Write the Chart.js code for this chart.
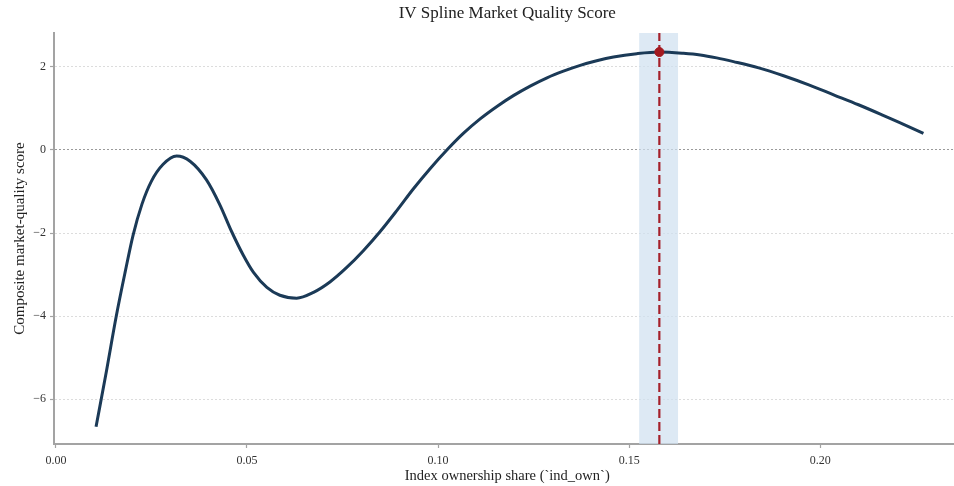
<!DOCTYPE html>
<html>
<head>
<meta charset="utf-8">
<script src="https://cdn.jsdelivr.net/npm/chart.js@4/dist/chart.umd.min.js"></script>
<style>
  html, body { margin: 0; padding: 0; background: #ffffff; overflow: hidden; }
  #wrap { width: 966px; height: 486px; position: relative; }
</style>
</head>
<body>
<div id="wrap"><canvas id="chart"></canvas></div>
<script>
// Fitted spline of the composite score against index ownership share
const ownShare = [
  0.0105, 0.0130, 0.0158, 0.0181, 0.0202, 0.0225, 0.0250, 0.0280, 0.0316, 0.0351,
  0.0394, 0.0429, 0.0460, 0.0490, 0.0517, 0.0552, 0.0586, 0.0630, 0.0674, 0.0717,
  0.0761, 0.0805, 0.0848, 0.0892, 0.0935, 0.0979, 0.1023, 0.1066, 0.1110, 0.1154,
  0.1197, 0.1241, 0.1285, 0.1328, 0.1372, 0.1415, 0.1459, 0.1520, 0.1579, 0.1642,
  0.1686, 0.1729, 0.1773, 0.1839, 0.1904, 0.1970, 0.2035, 0.2100, 0.2166, 0.2218,
  0.2270
];
const qualityScore = [
  -6.67, -5.44, -4.00, -2.95, -2.05, -1.31, -0.75, -0.35, -0.145, -0.27,
  -0.72, -1.32, -1.97, -2.53, -2.95, -3.31, -3.50, -3.57, -3.43, -3.18,
  -2.83, -2.42, -1.97, -1.46, -0.94, -0.45, 0.00, 0.40, 0.75, 1.05,
  1.31, 1.54, 1.74, 1.90, 2.04, 2.15, 2.24, 2.32, 2.36, 2.33,
  2.29, 2.22, 2.13, 1.98, 1.79, 1.57, 1.33, 1.09, 0.83, 0.62,
  0.40
];

// Estimated optimum and its confidence band
const optimumShare = 0.1579;
const optimumScore = 2.36;
const bandLow = 0.1526;
const bandHigh = 0.1628;

// Axis ranges and ticks
const xRange = [-0.0005, 0.2367];
const yRange = [-7.084, 2.819];
const xTicks = [0.00, 0.05, 0.10, 0.15, 0.20];
const yTicks = [-6, -4, -2, 0, 2];

const serif = "'Liberation Serif', 'DejaVu Serif', serif";
const axisGray = '#a3a3a3';

new Chart(document.getElementById('chart'), {
  type: 'line',
  data: {
    datasets: [
      {
        // confidence band around the optimum
        data: [{ x: bandLow, y: yRange[1] }, { x: bandHigh, y: yRange[1] }],
        borderWidth: 0,
        pointRadius: 0,
        backgroundColor: 'rgba(206, 223, 240, 0.7)',
        fill: 'start',
        order: 4
      },
      {
        data: ownShare.map((x, i) => ({ x: x, y: qualityScore[i] })),
        borderColor: '#1b3a57',
        borderWidth: 3,
        pointRadius: 0,
        fill: false,
        cubicInterpolationMode: 'monotone',
        order: 3
      },
      {
        // vertical marker at the optimum
        data: [{ x: optimumShare, y: yRange[0] }, { x: optimumShare, y: yRange[1] }],
        borderColor: '#a5202a',
        borderWidth: 2.2,
        borderDash: [9, 4],
        pointRadius: 0,
        fill: false,
        order: 2
      },
      {
        data: [{ x: optimumShare, y: optimumScore }],
        showLine: false,
        pointRadius: 4.5,
        pointBackgroundColor: '#a3191f',
        pointBorderColor: '#a3191f',
        order: 1
      }
    ]
  },
  options: {
    responsive: true,
    maintainAspectRatio: false,
    animation: false,
    events: [],
    layout: { padding: { left: 4, right: 0, top: 0, bottom: 0 } },
    plugins: {
      legend: { display: false },
      tooltip: { enabled: false },
      title: {
        display: true,
        text: 'IV Spline Market Quality Score',
        fullSize: false,
        color: '#222222',
        font: { family: serif, size: 17, weight: 'normal', lineHeight: 1.2 },
        padding: { top: 3, bottom: 9.6 }
      }
    },
    scales: {
      x: {
        type: 'linear',
        min: xRange[0],
        max: xRange[1],
        afterBuildTicks: (scale) => { scale.ticks = xTicks.map(v => ({ value: v })); },
        afterFit: (scale) => { scale.height = 42; },
        ticks: {
          color: '#333333',
          font: { family: serif, size: 12 },
          padding: 6,
          maxRotation: 0,
          callback: (v) => v.toFixed(2)
        },
        grid: {
          drawOnChartArea: false,
          drawTicks: true,
          tickLength: 4,
          tickColor: axisGray,
          tickWidth: 1.2
        },
        border: { display: true, color: axisGray, width: 2 },
        title: {
          display: true,
          text: 'Index ownership share (`ind_own`)',
          color: '#222222',
          font: { family: serif, size: 14.5 },
          padding: { top: 0, bottom: 1 }
        }
      },
      y: {
        type: 'linear',
        min: yRange[0],
        max: yRange[1],
        afterBuildTicks: (scale) => { scale.ticks = yTicks.map(v => ({ value: v })); },
        afterFit: (scale) => { scale.width = 50; },
        ticks: {
          color: '#333333',
          font: { family: serif, size: 12 },
          padding: 4,
          callback: (v) => (v < 0 ? '\u2212' + Math.abs(v) : String(v))
        },
        grid: {
          drawOnChartArea: true,
          drawTicks: true,
          tickLength: 4,
          tickColor: axisGray,
          tickWidth: 1.2,
          lineWidth: 1,
          color: (ctx) => (ctx.tick && ctx.tick.value === 0 ? '#9a9a9a' : '#dcdcdc')
        },
        border: { display: true, color: axisGray, width: 2, dash: [2, 2] },
        title: {
          display: true,
          text: 'Composite market-quality score',
          color: '#222222',
          font: { family: serif, size: 15 },
          padding: { top: 7, bottom: 0 }
        }
      }
    }
  }
});
</script>
</body>
</html>
